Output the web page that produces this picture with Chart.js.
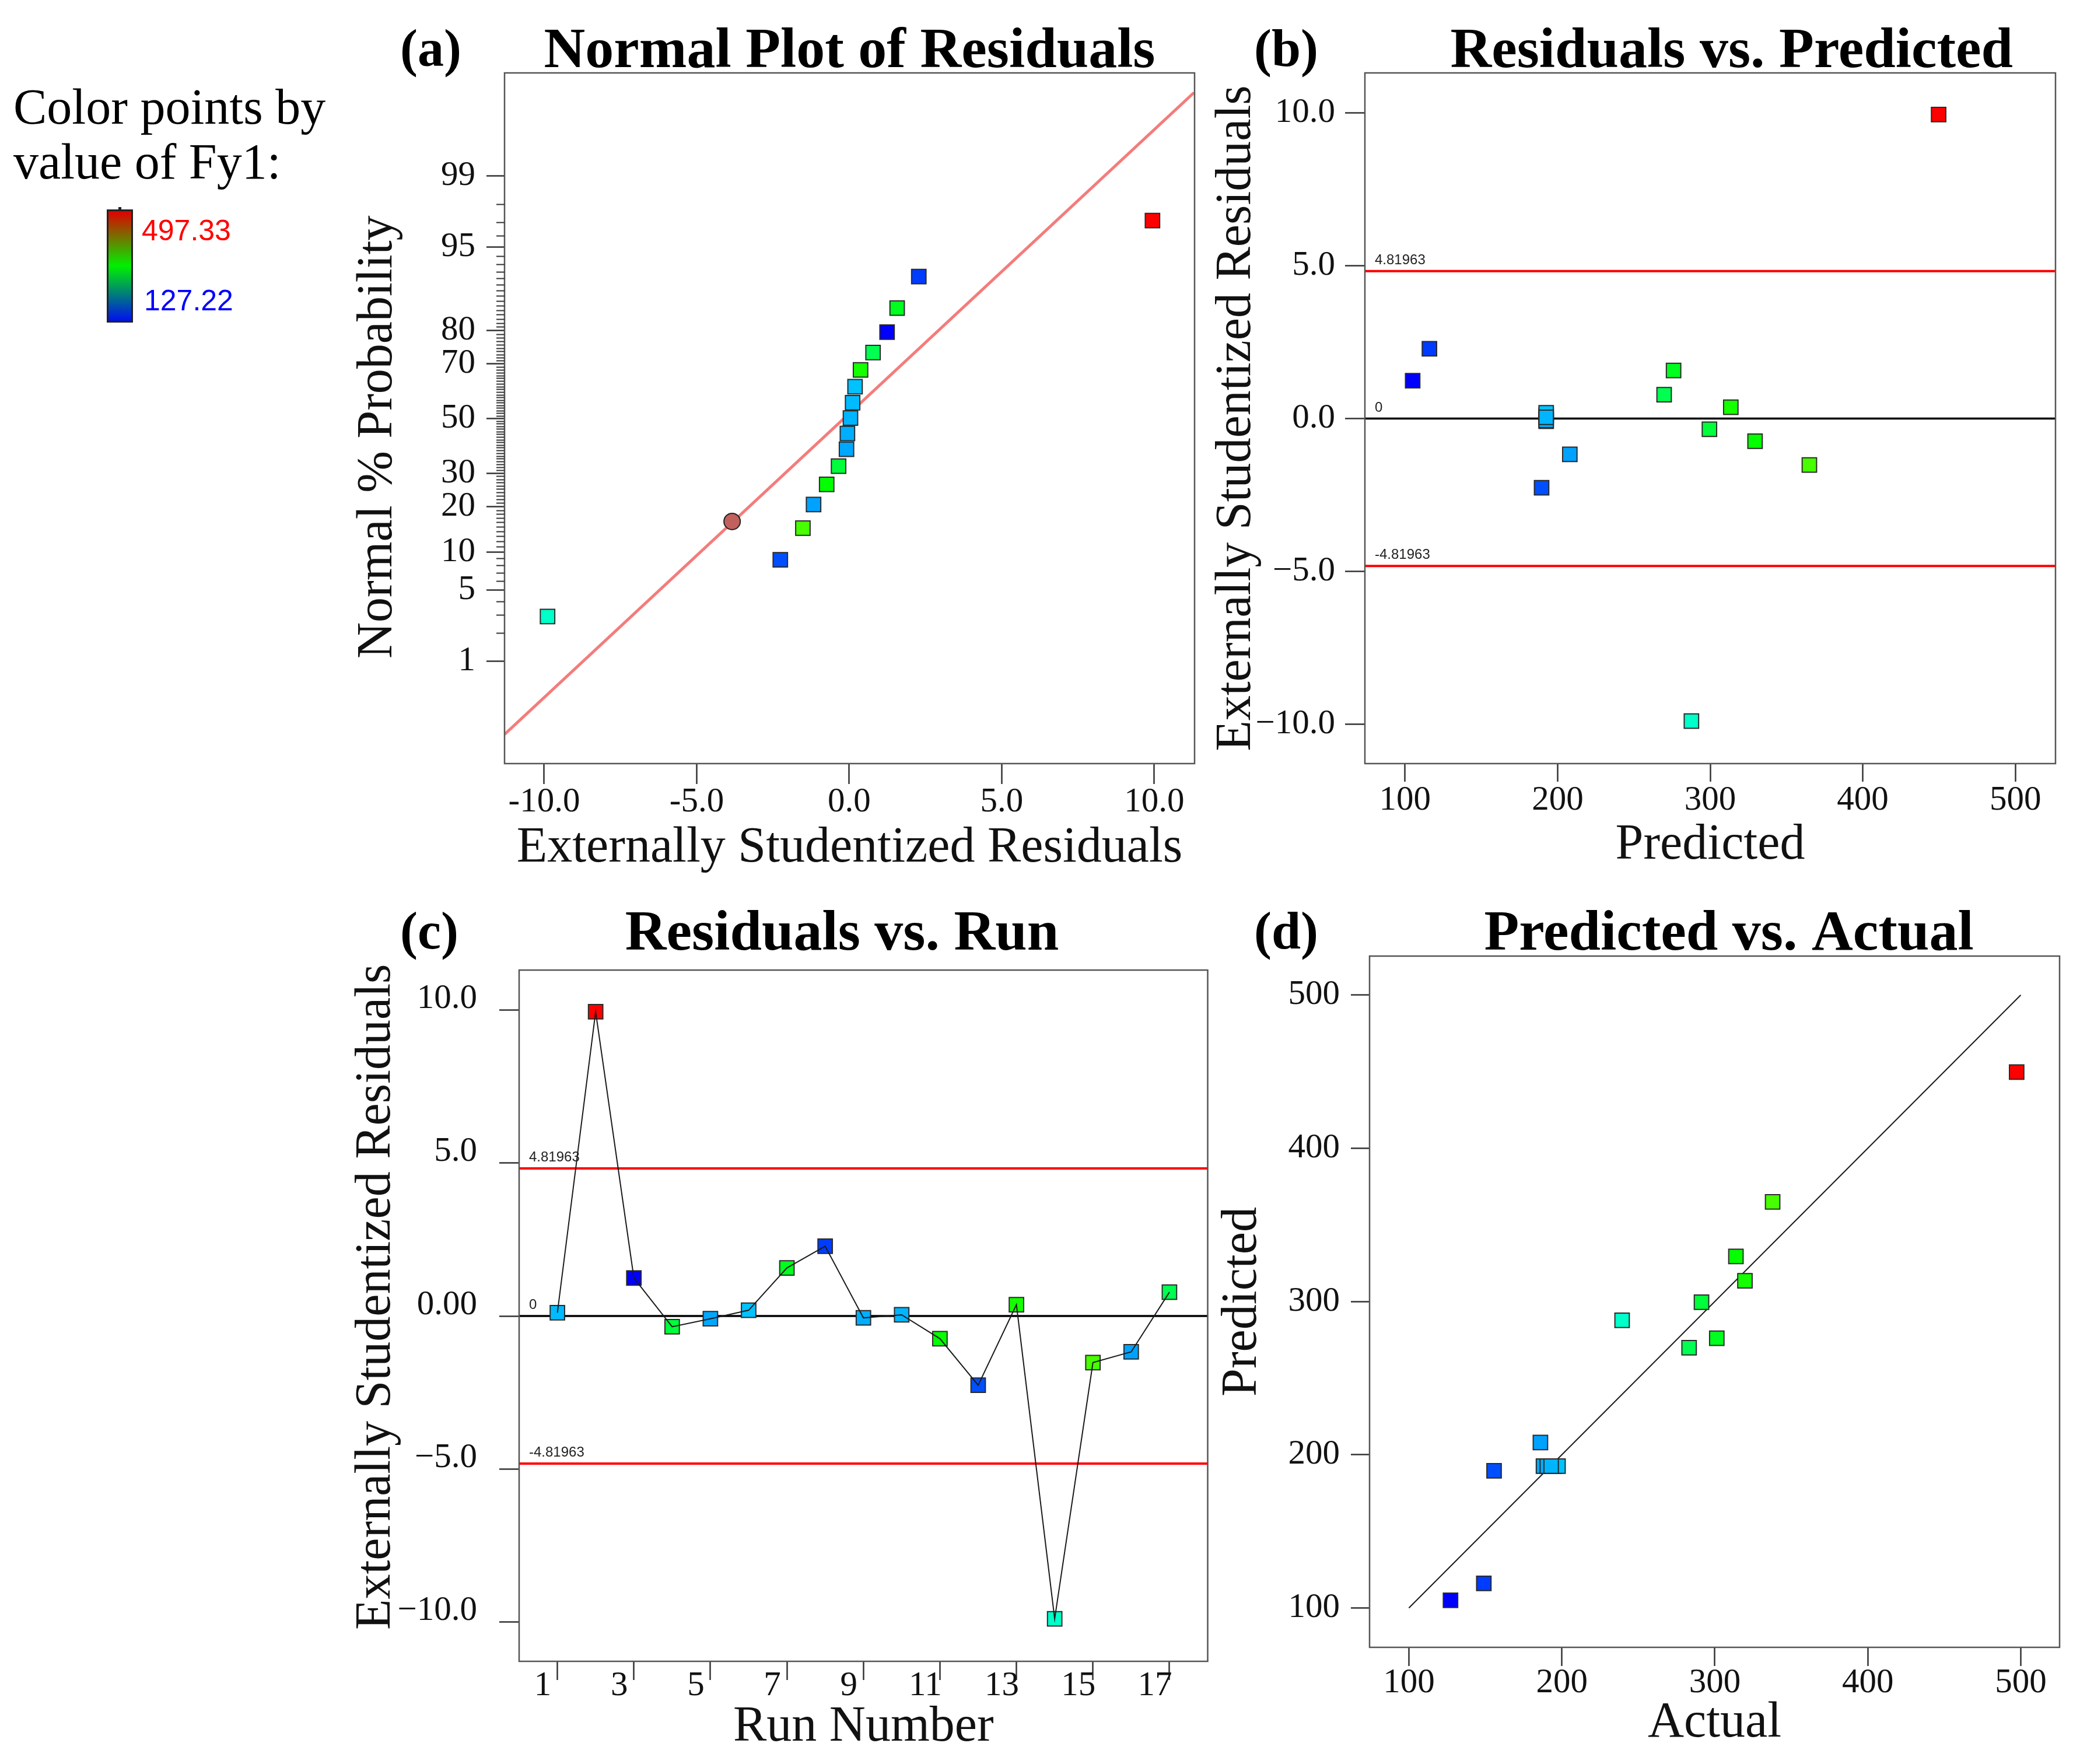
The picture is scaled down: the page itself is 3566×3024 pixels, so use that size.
<!DOCTYPE html>
<html>
<head>
<meta charset="utf-8">
<script src="https://cdn.jsdelivr.net/npm/chart.js@4.4.0/dist/chart.umd.min.js"></script>
<style>
    body { margin: 0; background: #fff; width: 3566px; height: 3024px; position: relative; overflow: hidden; }
    .box { position: absolute; }
    .tag { position: absolute; font: bold 90px "Liberation Serif", serif; line-height: 90px; color: #000; }
    #legendText { position: absolute; left: 23px; top: 136px; font: 86px "Liberation Serif", serif; line-height: 94px; color: #000; }
    #colorBar { position: absolute; left: 183px; top: 359px; width: 45px; height: 194px; box-sizing: border-box;
        border: 3px solid #222; background: linear-gradient(to bottom, #e00000, #00f000 50%, #0010f0); }
    #colorBar:before { content: ""; position: absolute; left: 17px; top: -7px; width: 5px; height: 5px; background: #222; }
    .barLabel { position: absolute; font: 50px "Liberation Sans", sans-serif; line-height: 50px; }
</style>
</head>
<body>

<div id="legendText">Color points by<br>value of Fy1:</div>
<div id="colorBar"></div>
<div class="barLabel" id="maxLabel" style="left:243px; top:370px; color:#ff0000;"></div>
<div class="barLabel" id="minLabel" style="left:247px; top:490px; color:#0000ff;"></div>

<div class="tag" style="left:686px; top:38px;">(a)</div>
<div class="tag" style="left:2150px; top:38px;">(b)</div>
<div class="tag" style="left:686px; top:1551px;">(c)</div>
<div class="tag" style="left:2150px; top:1551px;">(d)</div>

<div class="box" style="left:560px; top:0px;"><canvas id="chartA" width="1510" height="1500"></canvas></div>
<div class="box" style="left:2070px; top:0px;"><canvas id="chartB" width="1496" height="1500"></canvas></div>
<div class="box" style="left:560px; top:1500px;"><canvas id="chartC" width="1530" height="1524"></canvas></div>
<div class="box" style="left:2090px; top:1500px;"><canvas id="chartD" width="1476" height="1524"></canvas></div>

<script>
// run data (index = run - 1)
const runs = [1, 2, 3, 4, 5, 6, 7, 8, 9, 10, 11, 12, 13, 14, 15, 16, 17];
const actual = [195, 497.33, 127.22, 291.3, 188, 197.5, 301.3, 149, 190.5, 193, 313.8, 155.7, 319.7, 239.4, 337.8, 186, 283.2];
const predicted = [192.5, 449.7, 105, 299.5, 192.5, 192.5, 276, 116, 192.5, 192.5, 329.4, 189.5, 313.5, 287.7, 365, 208, 269.8];
const residuals = [0.11, 9.94, 1.24, -0.35, -0.09, 0.19, 1.57, 2.28, -0.06, 0.04, -0.74, -2.26, 0.37, -9.89, -1.52, -1.17, 0.78];
// normal % probability of each run's point in the normal plot
const normalPct = [56, 97.1, 79.6, 32.4, 38.4, 62, 85.5, 91.3, 44.3, 50.2, 26.4, 8.8, 67.9, 2.9, 14.7, 20.5, 73.6];

const fyMin = 127.22;
const fyMax = 497.33;
const limitValue = 4.81963;

// normal plot reference line and highlighted point
const fitLineX = [-11.3, 11.3];
const fitLinePct = [0.124, 99.91];
const markX = [-3.84];
const markPct = [16.2];

// axis ranges and ticks
const residRange = [-11.3, 11.32];
const probRange = [-3.305, 3.31];
const probTicks = [1, 5, 10, 20, 30, 50, 70, 80, 95, 99];
const residTicks = [-10, -5, 0, 5, 10];
const studRange = [-11.28, 11.3];
const predRange = [73.7, 526.3];
const valueRange = [74.3, 525.4];
const valueTicks = [100, 200, 300, 400, 500];
const runRange = [0, 18];
const runTicks = [1, 3, 5, 7, 9, 11, 13, 15, 17];
const diagonal = [100, 500];

const serif = '"Liberation Serif", "Times New Roman", serif';
const tickFont = { family: serif, size: 59, lineHeight: 1 };
const axisTitleFont = { family: serif, size: 86, lineHeight: 0.9 };
const titleFont = { family: serif, size: 98, weight: 'bold', lineHeight: 0.7 };

document.getElementById("maxLabel").textContent = fyMax.toFixed(2);
document.getElementById("minLabel").textContent = fyMin.toFixed(2);

// inverse of the standard normal CDF (Acklam), used to map % onto the probability axis
function probit(p) {
    const a = [-3.969683028665376e+01, 2.209460984245205e+02, -2.759285104469687e+02, 1.383577518672690e+02, -3.066479806614716e+01, 2.506628277459239e+00];
    const b = [-5.447609879822406e+01, 1.615858368580409e+02, -1.556989798598866e+02, 6.680131188771972e+01, -1.328068155288572e+01];
    const c = [-7.784894002430293e-03, -3.223964580411365e-01, -2.400758277161838e+00, -2.549732539343734e+00, 4.374664141464968e+00, 2.938163982698783e+00];
    const d = [7.784695709041462e-03, 3.224671290700398e-01, 2.445134137142996e+00, 3.754408661907416e+00];
    const low = 0.02425;
    let q, r;
    if (p < low) {
        q = Math.sqrt(-2 * Math.log(p));
        return (((((c[0] * q + c[1]) * q + c[2]) * q + c[3]) * q + c[4]) * q + c[5]) / ((((d[0] * q + d[1]) * q + d[2]) * q + d[3]) * q + 1);
    }
    if (p > 1 - low) {
        q = Math.sqrt(-2 * Math.log(1 - p));
        return -(((((c[0] * q + c[1]) * q + c[2]) * q + c[3]) * q + c[4]) * q + c[5]) / ((((d[0] * q + d[1]) * q + d[2]) * q + d[3]) * q + 1);
    }
    q = p - 0.5;
    r = q * q;
    return (((((a[0] * r + a[1]) * r + a[2]) * r + a[3]) * r + a[4]) * r + a[5]) * q / (((((b[0] * r + b[1]) * r + b[2]) * r + b[3]) * r + b[4]) * r + 1);
}

function pctToZ(pct) {
    return probit(pct / 100);
}

// point colour from the Fy1 value: blue (low) through green to red (high)
function colorFor(value) {
    let t = (value - fyMin) / (fyMax - fyMin);
    t = Math.min(1, Math.max(0, t));
    return "hsl(" + (240 * (1 - t)).toFixed(1) + ", 100%, 50%)";
}

const runColors = actual.map(colorFor);

function fmtMinus(v, zeroText) {
    if (v === 0) return zeroText;
    return (v < 0 ? "\u2212" : "") + Math.abs(v).toFixed(1);
}

function squares(points) {
    return {
        data: points,
        pointStyle: 'rect',
        pointRadius: 17.5,
        backgroundColor: runColors,
        borderColor: '#2a2a2a',
        borderWidth: 2,
        showLine: false,
        order: 1
    };
}

function straightLine(points, color, width) {
    return {
        data: points,
        showLine: true,
        borderColor: color,
        borderWidth: width,
        pointRadius: 0,
        order: 3
    };
}

function yAxis(cfg) {
    return {
        type: 'linear',
        position: 'left',
        min: cfg.range[0],
        max: cfg.range[1],
        afterFit: s => { s.width = cfg.width; },
        afterBuildTicks: s => { s.ticks = cfg.ticks.map(v => ({ value: v })); },
        grid: { display: true, drawOnChartArea: false, drawTicks: true, tickLength: cfg.tickLength, tickColor: '#333', tickWidth: 2.5 },
        border: { display: false },
        ticks: { font: tickFont, color: '#111', padding: cfg.padding, labelOffset: cfg.labelOffset || 0, autoSkip: false, maxRotation: 0, callback: cfg.format },
        title: { display: true, text: cfg.title, font: axisTitleFont, color: '#111', padding: { top: cfg.titlePad, bottom: 0 } }
    };
}

function xAxis(cfg) {
    return {
        type: 'linear',
        position: 'bottom',
        min: cfg.range[0],
        max: cfg.range[1],
        afterFit: s => { s.height = cfg.height; },
        afterBuildTicks: s => { s.ticks = cfg.ticks.map(v => ({ value: v })); },
        grid: { display: true, drawOnChartArea: false, drawTicks: true, tickLength: cfg.tickLength, tickColor: '#333', tickWidth: 2.5 },
        border: { display: false },
        ticks: { font: tickFont, color: '#111', padding: cfg.padding, labelOffset: cfg.labelOffset || 0, autoSkip: false, maxRotation: 0, callback: cfg.format },
        title: { display: true, text: cfg.title, font: axisTitleFont, color: '#111', padding: { top: 0, bottom: cfg.titlePad } }
    };
}

// box around the plotting area
const frame = {
    id: 'frame',
    afterDatasetsDraw(chart) {
        const { ctx, chartArea: a } = chart;
        ctx.save();
        ctx.strokeStyle = '#555';
        ctx.lineWidth = 2.5;
        ctx.strokeRect(a.left, a.top, a.right - a.left, a.bottom - a.top);
        ctx.restore();
    }
};

// short ticks for every whole percent on the probability axis
const minorTicks = {
    id: 'minorTicks',
    afterDraw(chart, args, opts) {
        if (!opts.values) return;
        const { ctx, chartArea } = chart;
        const y = chart.scales.y;
        ctx.save();
        ctx.strokeStyle = '#333';
        ctx.lineWidth = 2;
        ctx.beginPath();
        opts.values.forEach(p => {
            const py = Math.round(y.getPixelForValue(pctToZ(p))) + 0.5;
            ctx.moveTo(chartArea.left - opts.length, py);
            ctx.lineTo(chartArea.left, py);
        });
        ctx.stroke();
        ctx.restore();
    }
};

// small captions above the limit lines
const lineLabels = {
    id: 'lineLabels',
    afterDatasetsDraw(chart, args, opts) {
        if (!opts.values) return;
        const { ctx, chartArea } = chart;
        const y = chart.scales.y;
        ctx.save();
        ctx.fillStyle = '#222';
        ctx.font = '24px "Liberation Sans", Arial, sans-serif';
        ctx.textBaseline = 'alphabetic';
        opts.values.forEach(v => {
            ctx.fillText(String(v), chartArea.left + 17, y.getPixelForValue(v) - 12);
        });
        ctx.restore();
    }
};

function limitSets(xr) {
    return [
        straightLine([{ x: xr[0], y: limitValue }, { x: xr[1], y: limitValue }], '#ff0000', 4),
        straightLine([{ x: xr[0], y: 0 }, { x: xr[1], y: 0 }], '#000000', 3.5),
        straightLine([{ x: xr[0], y: -limitValue }, { x: xr[1], y: -limitValue }], '#ff0000', 4)
    ];
}

function baseOptions(cfg) {
    return {
        responsive: false,
        devicePixelRatio: 1,
        animation: false,
        events: [],
        layout: { padding: { left: 0, right: cfg.padRight, top: 0, bottom: 0 } },
        plugins: {
            legend: { display: false },
            tooltip: { enabled: false },
            title: {
                display: true,
                text: cfg.title,
                fullSize: false,
                color: '#000',
                font: titleFont,
                padding: { top: cfg.titleTop, bottom: cfg.titleBottom }
            },
            minorTicks: cfg.minorTicks || {},
            lineLabels: cfg.lineLabels || {}
        },
        scales: { x: cfg.x, y: cfg.y }
    };
}

// (a) normal plot of residuals
let minorPct = [];
for (let p = 1; p <= 99; p++) {
    if (!probTicks.includes(p)) minorPct.push(p);
}

new Chart(document.getElementById("chartA"), {
    type: 'scatter',
    data: {
        datasets: [
            squares(runs.map((r, i) => ({ x: residuals[i], y: pctToZ(normalPct[i]) }))),
            {
                data: markX.map((x, i) => ({ x: x, y: pctToZ(markPct[i]) })),
                pointStyle: 'circle',
                pointRadius: 14,
                backgroundColor: '#c2605e',
                borderColor: '#222',
                borderWidth: 2,
                order: 2
            },
            straightLine(fitLineX.map((x, i) => ({ x: x, y: pctToZ(fitLinePct[i]) })), '#f47c7c', 5)
        ]
    },
    options: baseOptions({
        title: 'Normal Plot of Residuals', titleTop: 55.7, titleBottom: 0.7, padRight: 22,
        minorTicks: { values: minorPct, length: 14 },
        x: xAxis({ range: residRange, ticks: residTicks, height: 191, tickLength: 35, padding: 2.4, titlePad: 7.3,
            title: 'Externally Studentized Residuals', format: v => v.toFixed(1) }),
        y: yAxis({ range: probRange, ticks: probTicks.map(pctToZ), width: 305, tickLength: 31, padding: 19, titlePad: 49.3,
            title: 'Normal % Probability   ', format: (v, i) => String(probTicks[i]) })
    }),
    plugins: [frame, minorTicks]
});

// (b) residuals vs predicted
new Chart(document.getElementById("chartB"), {
    type: 'scatter',
    data: {
        datasets: [squares(runs.map((r, i) => ({ x: predicted[i], y: residuals[i] })))].concat(limitSets(predRange))
    },
    options: baseOptions({
        title: '   Residuals vs. Predicted', titleTop: 55.7, titleBottom: 0.7, padRight: 42,
        lineLabels: { values: [limitValue, 0, -limitValue] },
        x: xAxis({ range: predRange, ticks: valueTicks, height: 191, tickLength: 31, padding: 3.4, titlePad: 12.3,
            title: 'Predicted', format: v => String(v) }),
        y: yAxis({ range: studRange, ticks: residTicks, width: 270, tickLength: 34, padding: 17, titlePad: 11.3,
            title: 'Externally Studentized Residuals', format: v => fmtMinus(v, '0.0') })
    }),
    plugins: [frame, lineLabels]
});

// (c) residuals vs run
let runLine = straightLine(runs.map((r, i) => ({ x: r, y: residuals[i] })), '#1a1a1a', 2);
runLine.order = 0;

new Chart(document.getElementById("chartC"), {
    type: 'scatter',
    data: {
        datasets: [runLine, squares(runs.map((r, i) => ({ x: r, y: residuals[i] })))].concat(limitSets(runRange))
    },
    options: baseOptions({
        title: 'Residuals vs. Run   ', titleTop: 68.7, titleBottom: 25.7, padRight: 17,
        lineLabels: { values: [limitValue, 0, -limitValue] },
        x: xAxis({ range: runRange, ticks: runTicks, height: 176, tickLength: 32, padding: -19, labelOffset: -25, titlePad: 24.3,
            title: 'Run Number', format: v => String(v) }),
        y: yAxis({ range: studRange, ticks: residTicks, width: 330, tickLength: 34, padding: 38, labelOffset: -19, titlePad: 46.3,
            title: '   Externally Studentized Residuals', format: v => fmtMinus(v, '0.00') })
    }),
    plugins: [frame, lineLabels]
});

// (d) predicted vs actual
new Chart(document.getElementById("chartD"), {
    type: 'scatter',
    data: {
        datasets: [
            squares(runs.map((r, i) => ({ x: actual[i], y: predicted[i] }))),
            straightLine(diagonal.map(v => ({ x: v, y: v })), '#1a1a1a', 2)
        ]
    },
    options: baseOptions({
        title: '  Predicted vs. Actual', titleTop: 68.7, titleBottom: 1.7, padRight: 35,
        x: xAxis({ range: valueRange, ticks: valueTicks, height: 200, tickLength: 32, padding: 0, titlePad: 31,
            title: 'Actual', format: v => String(v) }),
        y: yAxis({ range: valueRange, ticks: valueTicks, width: 258, tickLength: 32, padding: 19, titlePad: 1.3,
            title: 'Predicted', format: v => String(v) })
    }),
    plugins: [frame]
});
</script>
</body>
</html>
